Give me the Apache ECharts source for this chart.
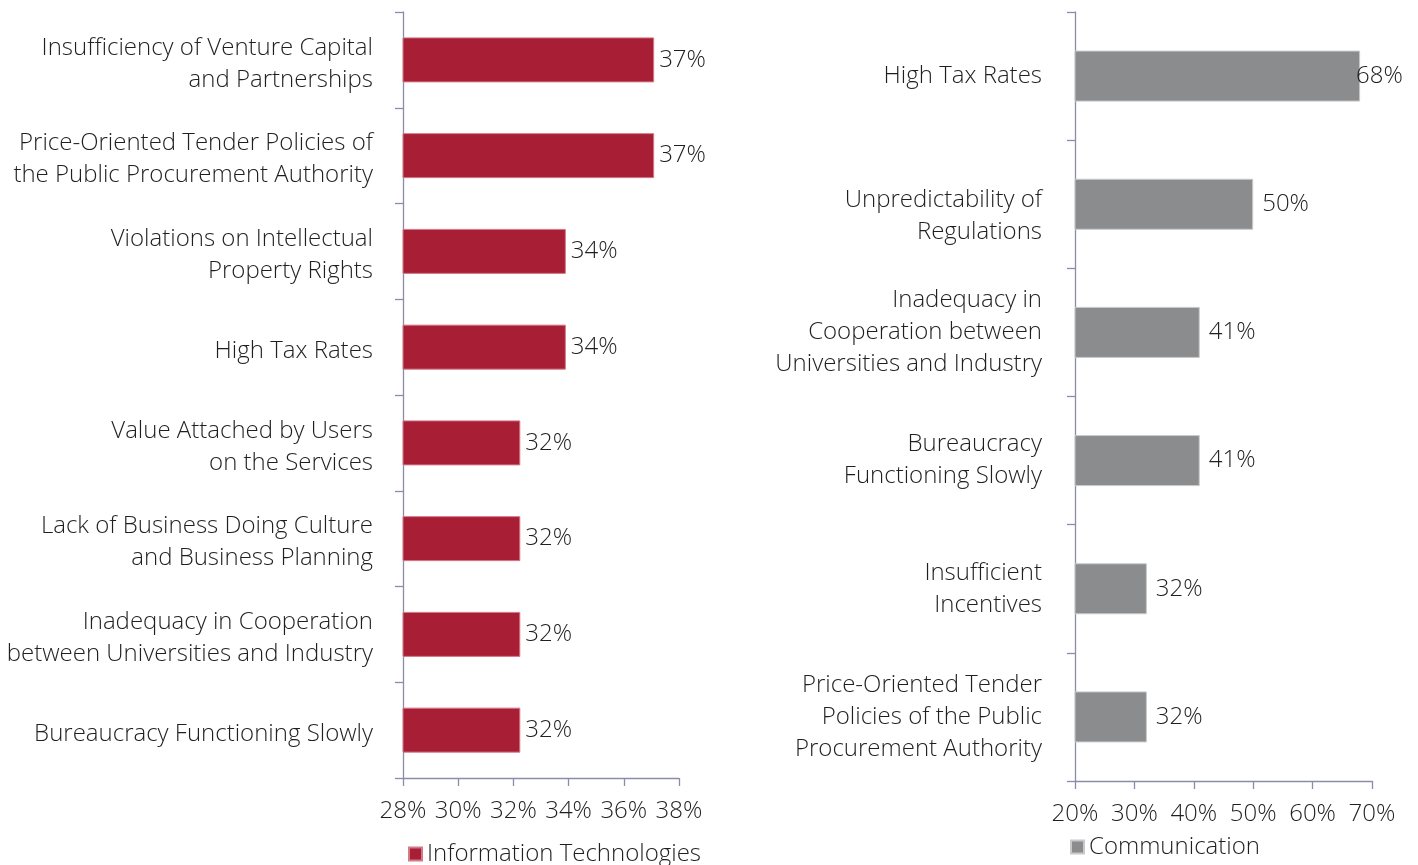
<!DOCTYPE html>
<html>
<head>
<meta charset="utf-8">
<script src="https://cdn.jsdelivr.net/npm/echarts@6/dist/echarts.min.js"></script>
<style>
  html, body { margin: 0; padding: 0; background: #ffffff; }
  #chart { width: 1418px; height: 865px; }
</style>
</head>
<body>
<div id="chart"></div>
<script>
// Information Technologies panel (top to bottom)
const itCategories = [
  'Insufficiency of Venture Capital\nand Partnerships',
  'Price-Oriented Tender Policies of\nthe Public Procurement Authority',
  'Violations on Intellectual\nProperty Rights',
  'High Tax Rates',
  'Value Attached by Users\non the Services',
  'Lack of Business Doing Culture\nand Business Planning',
  'Inadequacy in Cooperation\nbetween Universities and Industry',
  'Bureaucracy Functioning Slowly'
];
const itValues = [37.1, 37.1, 33.9, 33.9, 32.25, 32.25, 32.25, 32.25];
const itTicks = [28, 30, 32, 34, 36, 38];

// Communication panel (top to bottom)
const comCategories = [
  'High Tax Rates',
  'Unpredictability of\nRegulations',
  'Inadequacy in\nCooperation between\nUniversities and Industry',
  'Bureaucracy\nFunctioning Slowly',
  'Insufficient\nIncentives',
  'Price-Oriented Tender\nPolicies of the Public\nProcurement Authority'
];
const comValues = [68, 50, 41, 41, 32.1, 32.1];
const comTicks = [20, 30, 40, 50, 60, 70];

const FONT = '"Open Sans", "Noto Sans", sans-serif';
const WEIGHT = 300;
const SIZE = 24;
const LINE = 32;
const TEXT = '#1f1f1f';
const AXIS = '#8b8da8';
const RED = '#a81e35';
const GREY = '#8b8c8e';

const chart = echarts.init(document.getElementById('chart'), null, { renderer: 'canvas' });

const pct = v => Math.round(v) + '%';
const textStyle = { fontFamily: FONT, fontWeight: WEIGHT, fontSize: SIZE, color: TEXT };

function valueAxis(gridIndex, ticks) {
  return {
    type: 'value', gridIndex,
    min: ticks[0], max: ticks[ticks.length - 1],
    interval: ticks[1] - ticks[0],
    axisLine: { show: true, lineStyle: { color: AXIS, width: 1.3 } },
    axisTick: { show: true, length: 8, lineStyle: { color: AXIS, width: 1.3 } },
    splitLine: { show: false },
    axisLabel: Object.assign({ formatter: v => v + '%', margin: 21 }, textStyle)
  };
}

// shiftOf(index) -> downward shift (px) of that category's label block;
// done with a top-padded rich style on every line
function categoryAxis(gridIndex, cats, margin, shiftOf) {
  const rich = {};
  const styleKey = s => {
    const key = 's' + s;
    if (!rich[key]) rich[key] = Object.assign({ lineHeight: LINE, padding: [2 * s, 0, 0, 0], align: 'right' }, textStyle);
    return key;
  };
  cats.forEach((c, i) => styleKey(shiftOf(i)));
  return {
    type: 'category', gridIndex, data: cats, inverse: true,
    axisLine: { show: true, lineStyle: { color: AXIS, width: 1.3 } },
    axisTick: { show: true, length: 8, lineStyle: { color: AXIS, width: 1.3 } },
    axisLabel: Object.assign({
      margin, align: 'right', lineHeight: LINE, rich,
      formatter: (v, i) => {
        const key = styleKey(shiftOf(i));
        return String(v).split('\n').map(line => '{' + key + '|' + line + '}').join('\n');
      }
    }, textStyle)
  };
}

// a label that would run past the plot edge tucks in over its bar
function barData(values, ticks) {
  const min = ticks[0], max = ticks[ticks.length - 1];
  return values.map(v => ((max - v) / (max - min) < 0.05)
    ? { value: v, label: { distance: -4 } }
    : v);
}

const option = {
  animation: false,
  backgroundColor: '#ffffff',
  grid: [
    { left: 403, top: 12, width: 276, height: 766 },
    { left: 1075, top: 12, width: 297, height: 769 }
  ],
  xAxis: [valueAxis(0, itTicks), valueAxis(1, comTicks)],
  yAxis: [
    categoryAxis(0, itCategories, 30, i => 4),
    categoryAxis(1, comCategories, 33, i => (i === 1 ? 12 : 0))
  ],
  legend: [
    {
      data: ['Information Technologies'], left: 408, top: 842, padding: 0,
      icon: 'rect', itemWidth: 13, itemHeight: 13, itemGap: 6,
      textStyle: Object.assign({}, textStyle)
    },
    {
      data: ['Communication'], left: 1070, top: 835, padding: 0,
      icon: 'rect', itemWidth: 13, itemHeight: 13, itemGap: 6,
      textStyle: Object.assign({}, textStyle)
    }
  ],
  series: [
    {
      name: 'Information Technologies', type: 'bar',
      xAxisIndex: 0, yAxisIndex: 0, barWidth: 45,
      data: barData(itValues, itTicks),
      itemStyle: { color: RED, borderColor: '#d27a88', borderWidth: 1 },
      label: Object.assign({ show: true, position: 'right', distance: 5, formatter: p => pct(p.value) }, textStyle)
    },
    {
      name: 'Communication', type: 'bar',
      xAxisIndex: 1, yAxisIndex: 1, barWidth: 51,
      data: barData(comValues, comTicks),
      itemStyle: { color: GREY, borderColor: '#c9c9c9', borderWidth: 1 },
      label: Object.assign({ show: true, position: 'right', distance: 9, formatter: p => pct(p.value) }, textStyle)
    }
  ]
};

chart.setOption(option);
</script>
</body>
</html>
